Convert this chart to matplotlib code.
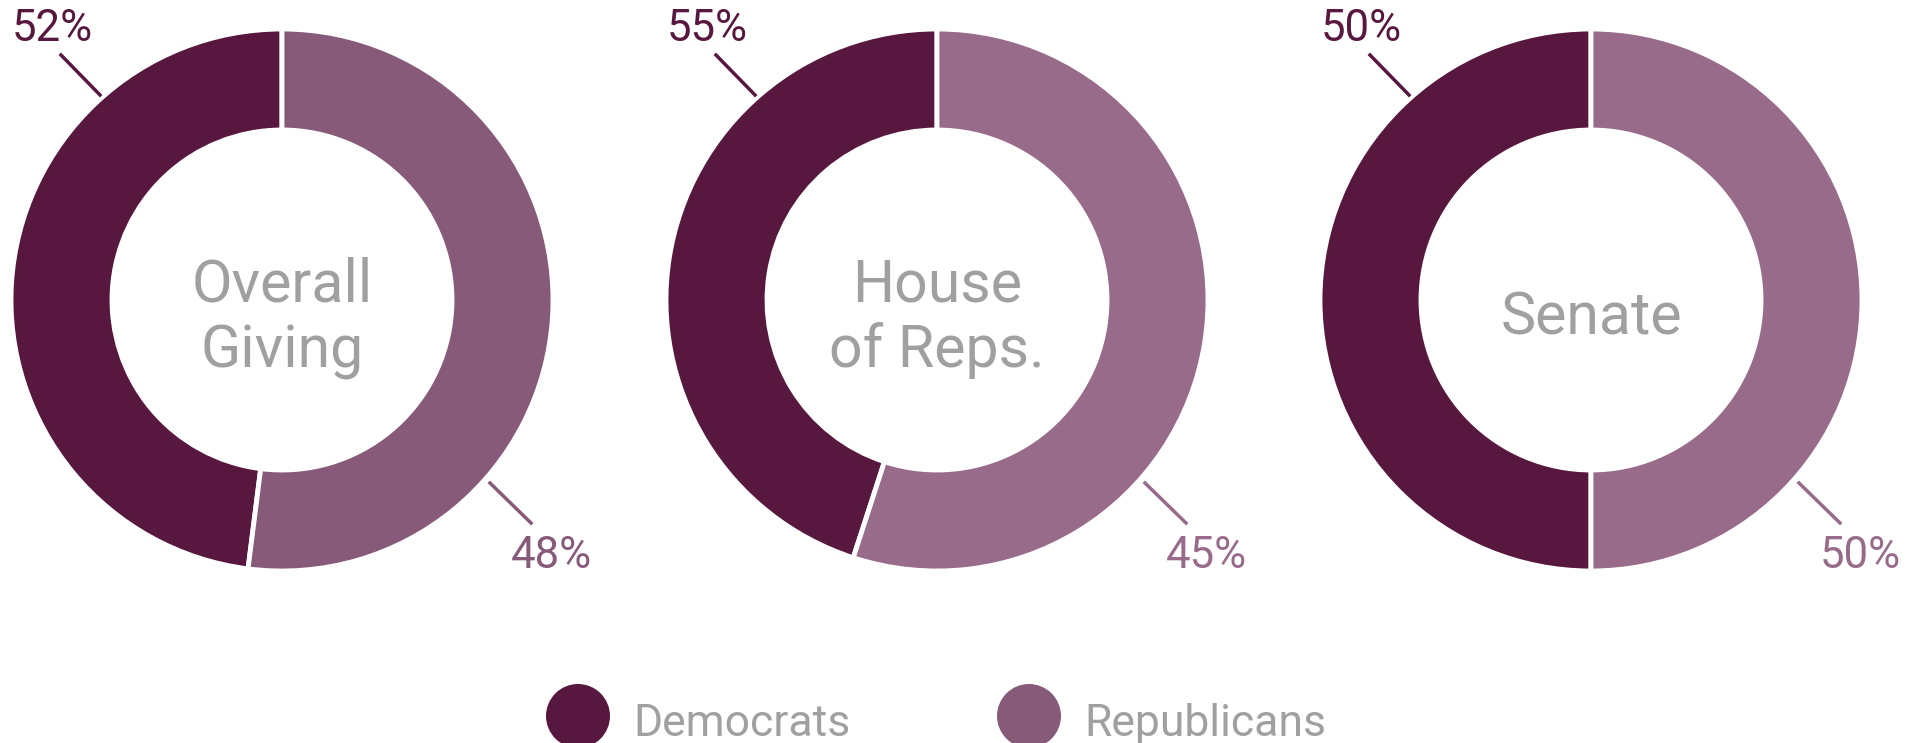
import matplotlib
matplotlib.use("Agg")
import matplotlib.pyplot as plt
from matplotlib.patches import Circle

plt.rcParams['font.family'] = ['Roboto', 'DejaVu Sans']

# ---- data ----
titles = ["Overall\nGiving", "House\nof Reps.", "Senate"]
dem_arc = [48, 45, 50]          # arc share drawn for Democrats
rep_arc = [52, 55, 50]          # arc share drawn for Republicans
dem_labels = ["52%", "55%", "50%"]
rep_labels = ["48%", "45%", "50%"]
legend_names = ["Democrats", "Republicans"]

DEM = "#58173e"
REP_COLORS = ["#875a7a", "#996b8a", "#996b8a"]
LEG_REP = "#875a7a"
GRAY = "#a0a0a0"

W, H = 1908, 743
fig = plt.figure(figsize=(W / 100, H / 100), dpi=100)
ax = fig.add_axes([0, 0, 1, 1])

centers_x = [282, 937, 1591]
cy_img = 300
R_OUT, R_IN = 271, 170

def Y(y_img):
    return H - y_img

for i in range(3):
    cx = centers_x[i]
    cy = Y(cy_img)
    ax.pie([dem_arc[i], rep_arc[i]], colors=[DEM, REP_COLORS[i]],
           startangle=90, counterclock=True, center=(cx, cy), radius=R_OUT,
           wedgeprops=dict(width=R_OUT - R_IN, edgecolor="white", linewidth=3.5),
           normalize=True, frame=True)
    # leader lines
    ax.plot([cx - 182, cx - 221], [cy + 205, cy + 245], color=DEM, lw=2.5)
    ax.plot([cx + 208, cx + 249], [cy - 183, cy - 223], color=REP_COLORS[i], lw=2.5)
    ax.text(cx - 230, cy + 271, dem_labels[i], color=DEM, fontsize=31.5,
            ha="center", va="center")
    ax.text(cx + 269, cy - 256, rep_labels[i], color=REP_COLORS[i], fontsize=31.5,
            ha="center", va="center")
    ax.text(cx, Y(318), titles[i], color=GRAY, fontsize=42.5, ha="center",
            va="center", linespacing=1.2)

# legend
leg_cx = [578, 1029]
leg_cols = [DEM, LEG_REP]
for x, c, name in zip(leg_cx, leg_cols, legend_names):
    ax.add_patch(Circle((x, Y(716)), 32, color=c, lw=0))
    ax.text(x + 55, Y(736), name, color=GRAY, fontsize=32, ha="left", va="baseline")

ax.set_xlim(0, W)
ax.set_ylim(0, H)
ax.set_aspect("equal")
ax.axis("off")

fig.savefig("out.png", dpi=100, facecolor="white")
